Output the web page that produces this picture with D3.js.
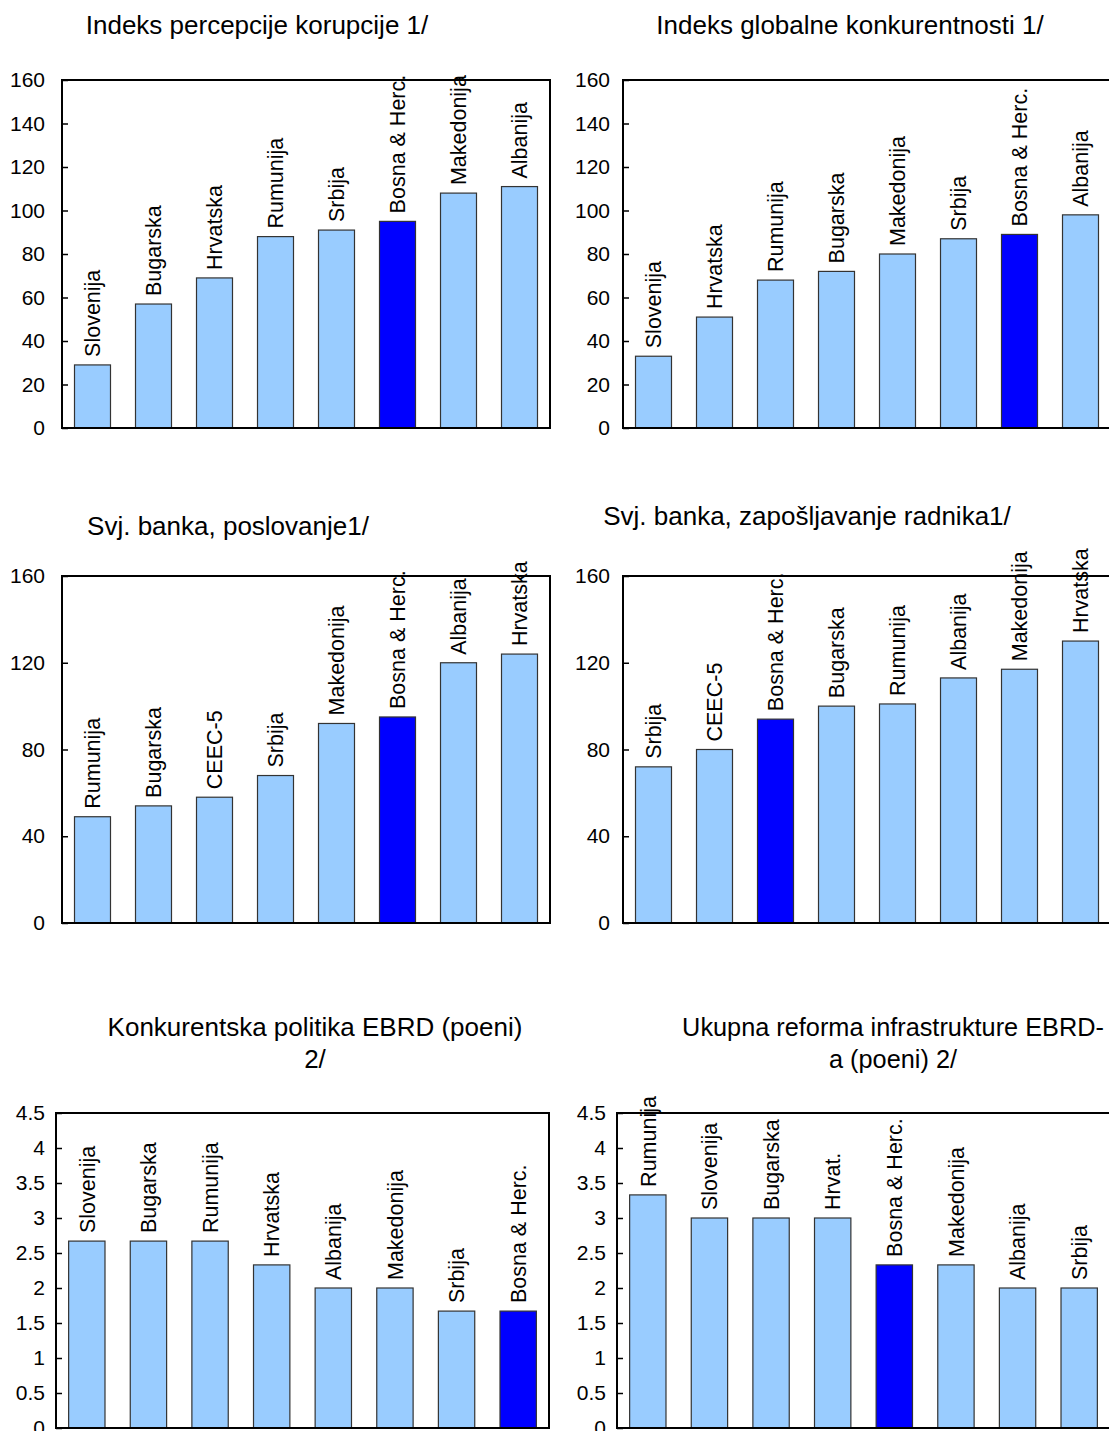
<!DOCTYPE html>
<html>
<head>
<meta charset="utf-8">
<script src="https://cdn.jsdelivr.net/npm/d3@7"></script>
<style>
  html, body { margin: 0; padding: 0; background: #fff; overflow: hidden; }
  svg { display: block; }
  text { font-family: Arial, "Liberation Sans", sans-serif; fill: #000; }
</style>
</head>
<body>
<svg id="chart" width="1109" height="1431"></svg>
<script>
// ---- data ----
const highlight = "Bosna & Herc.";

const cats1 = ["Slovenija", "Bugarska", "Hrvatska", "Rumunija", "Srbija", "Bosna & Herc.", "Makedonija", "Albanija"];
const vals1 = [29, 57, 69, 88, 91, 95, 108, 111];

const cats2 = ["Slovenija", "Hrvatska", "Rumunija", "Bugarska", "Makedonija", "Srbija", "Bosna & Herc.", "Albanija"];
const vals2 = [33, 51, 68, 72, 80, 87, 89, 98];

const cats3 = ["Rumunija", "Bugarska", "CEEC-5", "Srbija", "Makedonija", "Bosna & Herc.", "Albanija", "Hrvatska"];
const vals3 = [49, 54, 58, 68, 92, 95, 120, 124];

const cats4 = ["Srbija", "CEEC-5", "Bosna & Herc.", "Bugarska", "Rumunija", "Albanija", "Makedonija", "Hrvatska"];
const vals4 = [72, 80, 94, 100, 101, 113, 117, 130];

const cats5 = ["Slovenija", "Bugarska", "Rumunija", "Hrvatska", "Albanija", "Makedonija", "Srbija", "Bosna & Herc."];
const vals5 = [2.67, 2.67, 2.67, 2.33, 2.0, 2.0, 1.67, 1.67];

const cats6 = ["Rumunija", "Slovenija", "Bugarska", "Hrvat.", "Bosna & Herc.", "Makedonija", "Albanija", "Srbija"];
const vals6 = [3.33, 3.0, 3.0, 3.0, 2.33, 2.33, 2.0, 2.0];

const ticksA = [0, 20, 40, 60, 80, 100, 120, 140, 160];
const ticksB = [0, 40, 80, 120, 160];
const ticksC = [0, 0.5, 1, 1.5, 2, 2.5, 3, 3.5, 4, 4.5];

const title1 = ["Indeks percepcije korupcije 1/"];
const title2 = ["Indeks globalne konkurentnosti 1/"];
const title3 = ["Svj. banka, poslovanje1/"];
const title4 = ["Svj. banka, zapošljavanje radnika1/"];
const title5 = ["Konkurentska politika EBRD (poeni)", "2/"];
const title6 = ["Ukupna reforma infrastrukture EBRD-", "a (poeni) 2/"];

// ---- drawing ----
const svg = d3.select("#chart");
const LIGHT = "#99CCFF", DARK = "#0000FF";

function panel(cats, vals, ticks, yMax, title, box, pad, titlePos) {
  const x = d3.scaleBand().domain(cats).range([box.x0, box.x1]).paddingInner(0.41).paddingOuter(0.205);
  const y = d3.scaleLinear().domain([0, yMax]).range([box.y1, box.y0]);
  const g = svg.append("g");

  // bars
  g.selectAll("rect.bar").data(cats).enter().append("rect")
    .attr("class", "bar")
    .attr("x", d => x(d))
    .attr("width", x.bandwidth())
    .attr("y", (d, i) => y(vals[i]))
    .attr("height", (d, i) => y(0) - y(vals[i]))
    .attr("fill", d => d === highlight ? DARK : LIGHT)
    .attr("stroke", "#333")
    .attr("stroke-width", 1.2);

  // frame
  g.append("rect")
    .attr("x", box.x0).attr("y", box.y0)
    .attr("width", box.x1 - box.x0).attr("height", box.y1 - box.y0)
    .attr("fill", "none").attr("stroke", "#000").attr("stroke-width", 2);

  // y axis with inside ticks
  const ax = g.append("g")
    .attr("transform", `translate(${box.x0},0)`)
    .call(d3.axisLeft(y).tickValues(ticks).tickSizeInner(-6).tickSizeOuter(0).tickPadding(pad)
      .tickFormat(d3.format("~g")));
  ax.select(".domain").remove();
  ax.selectAll(".tick line").attr("stroke", "#000").attr("stroke-width", 1.5);
  ax.selectAll(".tick text")
    .style("font-family", 'Arial, "Liberation Sans", sans-serif')
    .style("font-size", "21px").attr("fill", "#000");

  // bar labels (rotated)
  g.selectAll("text.lbl").data(cats).enter().append("text")
    .attr("class", "lbl")
    .attr("transform", (d, i) => `translate(${x(d) + x.bandwidth() / 2},${y(vals[i]) - 8}) rotate(-90)`)
    .attr("dy", "0.36em")
    .attr("text-anchor", "start")
    .style("font-size", "21.5px")
    .text(d => d);

  // title
  title.forEach((t, k) => {
    svg.append("text")
      .attr("x", titlePos.x)
      .attr("y", titlePos.y + k * 32)
      .attr("text-anchor", "middle")
      .style("font-size", (titlePos.fs || 26) + "px")
      .text(t);
  });
}

panel(cats1, vals1, ticksA, 160, title1, {x0: 62, x1: 550, y0: 80, y1: 428}, 17, {x: 257, y: 34});
panel(cats2, vals2, ticksA, 160, title2, {x0: 623, x1: 1111, y0: 80, y1: 428}, 13, {x: 850, y: 34});
panel(cats3, vals3, ticksB, 160, title3, {x0: 62, x1: 550, y0: 576, y1: 923}, 17, {x: 228, y: 535});
panel(cats4, vals4, ticksB, 160, title4, {x0: 623, x1: 1111, y0: 576, y1: 923}, 13, {x: 807, y: 525});
panel(cats5, vals5, ticksC, 4.5, title5, {x0: 56, x1: 549, y0: 1113, y1: 1428}, 11, {x: 315, y: 1036});
panel(cats6, vals6, ticksC, 4.5, title6, {x0: 617, x1: 1110, y0: 1113, y1: 1428}, 11, {x: 893, y: 1036, fs: 25.3});
</script>
</body>
</html>
